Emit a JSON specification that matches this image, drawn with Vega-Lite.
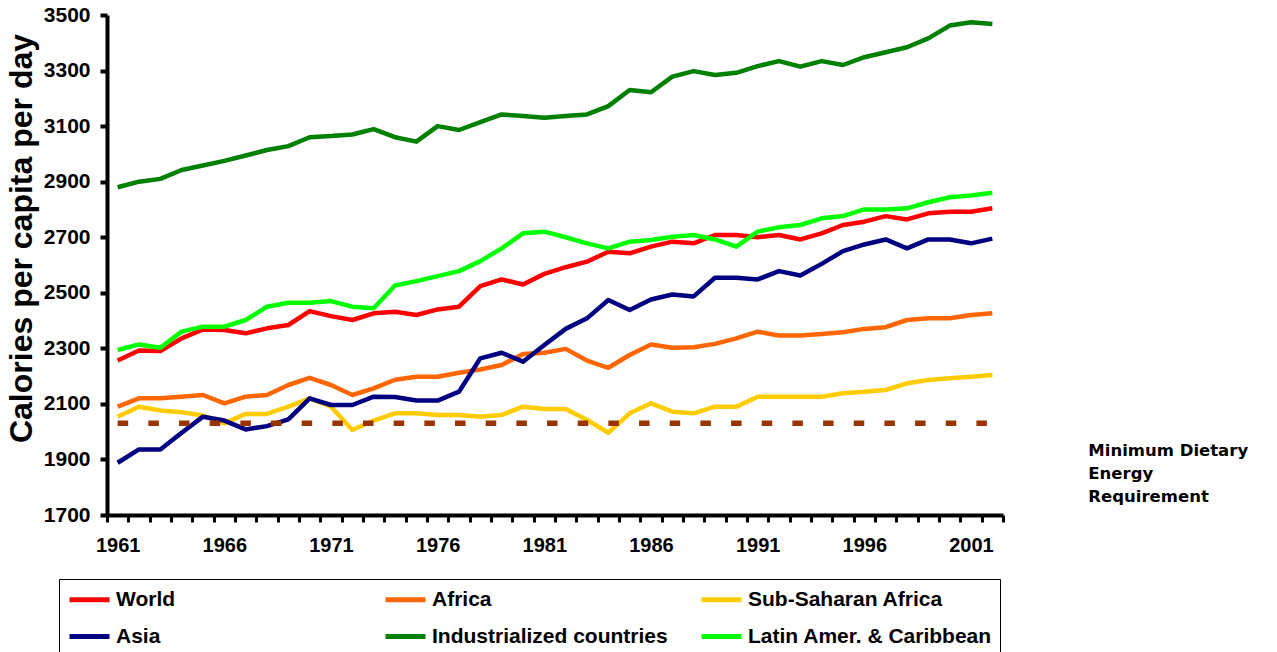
{
  "$schema": "https://vega.github.io/schema/vega-lite/v6.json",
  "width": 896,
  "height": 500,
  "autosize": {"type": "none"},
  "padding": {"left": 107, "top": 15, "right": 274, "bottom": 137},
  "background": "white",
  "config": {"view": {"stroke": null}, "font": "Liberation Sans"},
  "datasets": {
    "series": [
      {"year":1961,"series":"World","value":2256},{"year":1962,"series":"World","value":2292},{"year":1963,"series":"World","value":2290},{"year":1964,"series":"World","value":2336},{"year":1965,"series":"World","value":2368},{"year":1966,"series":"World","value":2366},{"year":1967,"series":"World","value":2354},{"year":1968,"series":"World","value":2372},{"year":1969,"series":"World","value":2384},{"year":1970,"series":"World","value":2434},{"year":1971,"series":"World","value":2416},{"year":1972,"series":"World","value":2402},{"year":1973,"series":"World","value":2426},{"year":1974,"series":"World","value":2432},{"year":1975,"series":"World","value":2420},{"year":1976,"series":"World","value":2440},{"year":1977,"series":"World","value":2450},{"year":1978,"series":"World","value":2524},{"year":1979,"series":"World","value":2548},{"year":1980,"series":"World","value":2530},{"year":1981,"series":"World","value":2568},{"year":1982,"series":"World","value":2592},{"year":1983,"series":"World","value":2612},{"year":1984,"series":"World","value":2648},{"year":1985,"series":"World","value":2642},{"year":1986,"series":"World","value":2666},{"year":1987,"series":"World","value":2684},{"year":1988,"series":"World","value":2678},{"year":1989,"series":"World","value":2708},{"year":1990,"series":"World","value":2708},{"year":1991,"series":"World","value":2700},{"year":1992,"series":"World","value":2708},{"year":1993,"series":"World","value":2692},{"year":1994,"series":"World","value":2714},{"year":1995,"series":"World","value":2744},{"year":1996,"series":"World","value":2756},{"year":1997,"series":"World","value":2776},{"year":1998,"series":"World","value":2764},{"year":1999,"series":"World","value":2786},{"year":2000,"series":"World","value":2792},{"year":2001,"series":"World","value":2792},{"year":2002,"series":"World","value":2804},
      {"year":1961,"series":"Africa","value":2090},{"year":1962,"series":"Africa","value":2120},{"year":1963,"series":"Africa","value":2120},{"year":1964,"series":"Africa","value":2126},{"year":1965,"series":"Africa","value":2132},{"year":1966,"series":"Africa","value":2102},{"year":1967,"series":"Africa","value":2126},{"year":1968,"series":"Africa","value":2132},{"year":1969,"series":"Africa","value":2168},{"year":1970,"series":"Africa","value":2194},{"year":1971,"series":"Africa","value":2168},{"year":1972,"series":"Africa","value":2132},{"year":1973,"series":"Africa","value":2156},{"year":1974,"series":"Africa","value":2187},{"year":1975,"series":"Africa","value":2198},{"year":1976,"series":"Africa","value":2198},{"year":1977,"series":"Africa","value":2212},{"year":1978,"series":"Africa","value":2224},{"year":1979,"series":"Africa","value":2240},{"year":1980,"series":"Africa","value":2280},{"year":1981,"series":"Africa","value":2284},{"year":1982,"series":"Africa","value":2298},{"year":1983,"series":"Africa","value":2256},{"year":1984,"series":"Africa","value":2230},{"year":1985,"series":"Africa","value":2276},{"year":1986,"series":"Africa","value":2314},{"year":1987,"series":"Africa","value":2302},{"year":1988,"series":"Africa","value":2304},{"year":1989,"series":"Africa","value":2316},{"year":1990,"series":"Africa","value":2336},{"year":1991,"series":"Africa","value":2360},{"year":1992,"series":"Africa","value":2346},{"year":1993,"series":"Africa","value":2346},{"year":1994,"series":"Africa","value":2352},{"year":1995,"series":"Africa","value":2358},{"year":1996,"series":"Africa","value":2370},{"year":1997,"series":"Africa","value":2376},{"year":1998,"series":"Africa","value":2402},{"year":1999,"series":"Africa","value":2408},{"year":2000,"series":"Africa","value":2408},{"year":2001,"series":"Africa","value":2420},{"year":2002,"series":"Africa","value":2426},
      {"year":1961,"series":"Sub-Saharan Africa","value":2054},{"year":1962,"series":"Sub-Saharan Africa","value":2090},{"year":1963,"series":"Sub-Saharan Africa","value":2076},{"year":1964,"series":"Sub-Saharan Africa","value":2070},{"year":1965,"series":"Sub-Saharan Africa","value":2058},{"year":1966,"series":"Sub-Saharan Africa","value":2030},{"year":1967,"series":"Sub-Saharan Africa","value":2064},{"year":1968,"series":"Sub-Saharan Africa","value":2064},{"year":1969,"series":"Sub-Saharan Africa","value":2090},{"year":1970,"series":"Sub-Saharan Africa","value":2120},{"year":1971,"series":"Sub-Saharan Africa","value":2090},{"year":1972,"series":"Sub-Saharan Africa","value":2006},{"year":1973,"series":"Sub-Saharan Africa","value":2040},{"year":1974,"series":"Sub-Saharan Africa","value":2066},{"year":1975,"series":"Sub-Saharan Africa","value":2066},{"year":1976,"series":"Sub-Saharan Africa","value":2060},{"year":1977,"series":"Sub-Saharan Africa","value":2060},{"year":1978,"series":"Sub-Saharan Africa","value":2054},{"year":1979,"series":"Sub-Saharan Africa","value":2060},{"year":1980,"series":"Sub-Saharan Africa","value":2090},{"year":1981,"series":"Sub-Saharan Africa","value":2082},{"year":1982,"series":"Sub-Saharan Africa","value":2082},{"year":1983,"series":"Sub-Saharan Africa","value":2042},{"year":1984,"series":"Sub-Saharan Africa","value":1996},{"year":1985,"series":"Sub-Saharan Africa","value":2066},{"year":1986,"series":"Sub-Saharan Africa","value":2102},{"year":1987,"series":"Sub-Saharan Africa","value":2072},{"year":1988,"series":"Sub-Saharan Africa","value":2066},{"year":1989,"series":"Sub-Saharan Africa","value":2090},{"year":1990,"series":"Sub-Saharan Africa","value":2090},{"year":1991,"series":"Sub-Saharan Africa","value":2126},{"year":1992,"series":"Sub-Saharan Africa","value":2126},{"year":1993,"series":"Sub-Saharan Africa","value":2126},{"year":1994,"series":"Sub-Saharan Africa","value":2126},{"year":1995,"series":"Sub-Saharan Africa","value":2138},{"year":1996,"series":"Sub-Saharan Africa","value":2144},{"year":1997,"series":"Sub-Saharan Africa","value":2150},{"year":1998,"series":"Sub-Saharan Africa","value":2174},{"year":1999,"series":"Sub-Saharan Africa","value":2186},{"year":2000,"series":"Sub-Saharan Africa","value":2192},{"year":2001,"series":"Sub-Saharan Africa","value":2198},{"year":2002,"series":"Sub-Saharan Africa","value":2204},
      {"year":1961,"series":"Asia","value":1888},{"year":1962,"series":"Asia","value":1936},{"year":1963,"series":"Asia","value":1936},{"year":1964,"series":"Asia","value":1996},{"year":1965,"series":"Asia","value":2054},{"year":1966,"series":"Asia","value":2040},{"year":1967,"series":"Asia","value":2008},{"year":1968,"series":"Asia","value":2020},{"year":1969,"series":"Asia","value":2044},{"year":1970,"series":"Asia","value":2120},{"year":1971,"series":"Asia","value":2096},{"year":1972,"series":"Asia","value":2096},{"year":1973,"series":"Asia","value":2126},{"year":1974,"series":"Asia","value":2125},{"year":1975,"series":"Asia","value":2112},{"year":1976,"series":"Asia","value":2112},{"year":1977,"series":"Asia","value":2144},{"year":1978,"series":"Asia","value":2264},{"year":1979,"series":"Asia","value":2284},{"year":1980,"series":"Asia","value":2252},{"year":1981,"series":"Asia","value":2312},{"year":1982,"series":"Asia","value":2370},{"year":1983,"series":"Asia","value":2408},{"year":1984,"series":"Asia","value":2474},{"year":1985,"series":"Asia","value":2438},{"year":1986,"series":"Asia","value":2476},{"year":1987,"series":"Asia","value":2494},{"year":1988,"series":"Asia","value":2487},{"year":1989,"series":"Asia","value":2554},{"year":1990,"series":"Asia","value":2554},{"year":1991,"series":"Asia","value":2548},{"year":1992,"series":"Asia","value":2578},{"year":1993,"series":"Asia","value":2562},{"year":1994,"series":"Asia","value":2604},{"year":1995,"series":"Asia","value":2650},{"year":1996,"series":"Asia","value":2674},{"year":1997,"series":"Asia","value":2692},{"year":1998,"series":"Asia","value":2660},{"year":1999,"series":"Asia","value":2692},{"year":2000,"series":"Asia","value":2692},{"year":2001,"series":"Asia","value":2678},{"year":2002,"series":"Asia","value":2695},
      {"year":1961,"series":"Industrialized countries","value":2880},{"year":1962,"series":"Industrialized countries","value":2900},{"year":1963,"series":"Industrialized countries","value":2910},{"year":1964,"series":"Industrialized countries","value":2942},{"year":1965,"series":"Industrialized countries","value":2958},{"year":1966,"series":"Industrialized countries","value":2975},{"year":1967,"series":"Industrialized countries","value":2994},{"year":1968,"series":"Industrialized countries","value":3014},{"year":1969,"series":"Industrialized countries","value":3028},{"year":1970,"series":"Industrialized countries","value":3060},{"year":1971,"series":"Industrialized countries","value":3064},{"year":1972,"series":"Industrialized countries","value":3070},{"year":1973,"series":"Industrialized countries","value":3089},{"year":1974,"series":"Industrialized countries","value":3060},{"year":1975,"series":"Industrialized countries","value":3044},{"year":1976,"series":"Industrialized countries","value":3100},{"year":1977,"series":"Industrialized countries","value":3086},{"year":1978,"series":"Industrialized countries","value":3114},{"year":1979,"series":"Industrialized countries","value":3142},{"year":1980,"series":"Industrialized countries","value":3136},{"year":1981,"series":"Industrialized countries","value":3130},{"year":1982,"series":"Industrialized countries","value":3136},{"year":1983,"series":"Industrialized countries","value":3142},{"year":1984,"series":"Industrialized countries","value":3172},{"year":1985,"series":"Industrialized countries","value":3230},{"year":1986,"series":"Industrialized countries","value":3222},{"year":1987,"series":"Industrialized countries","value":3278},{"year":1988,"series":"Industrialized countries","value":3298},{"year":1989,"series":"Industrialized countries","value":3284},{"year":1990,"series":"Industrialized countries","value":3292},{"year":1991,"series":"Industrialized countries","value":3316},{"year":1992,"series":"Industrialized countries","value":3334},{"year":1993,"series":"Industrialized countries","value":3314},{"year":1994,"series":"Industrialized countries","value":3334},{"year":1995,"series":"Industrialized countries","value":3320},{"year":1996,"series":"Industrialized countries","value":3348},{"year":1997,"series":"Industrialized countries","value":3366},{"year":1998,"series":"Industrialized countries","value":3384},{"year":1999,"series":"Industrialized countries","value":3416},{"year":2000,"series":"Industrialized countries","value":3462},{"year":2001,"series":"Industrialized countries","value":3474},{"year":2002,"series":"Industrialized countries","value":3468},
      {"year":1961,"series":"Latin Amer. & Caribbean","value":2294},{"year":1962,"series":"Latin Amer. & Caribbean","value":2314},{"year":1963,"series":"Latin Amer. & Caribbean","value":2302},{"year":1964,"series":"Latin Amer. & Caribbean","value":2360},{"year":1965,"series":"Latin Amer. & Caribbean","value":2378},{"year":1966,"series":"Latin Amer. & Caribbean","value":2378},{"year":1967,"series":"Latin Amer. & Caribbean","value":2402},{"year":1968,"series":"Latin Amer. & Caribbean","value":2450},{"year":1969,"series":"Latin Amer. & Caribbean","value":2464},{"year":1970,"series":"Latin Amer. & Caribbean","value":2464},{"year":1971,"series":"Latin Amer. & Caribbean","value":2470},{"year":1972,"series":"Latin Amer. & Caribbean","value":2450},{"year":1973,"series":"Latin Amer. & Caribbean","value":2444},{"year":1974,"series":"Latin Amer. & Caribbean","value":2526},{"year":1975,"series":"Latin Amer. & Caribbean","value":2542},{"year":1976,"series":"Latin Amer. & Caribbean","value":2560},{"year":1977,"series":"Latin Amer. & Caribbean","value":2578},{"year":1978,"series":"Latin Amer. & Caribbean","value":2614},{"year":1979,"series":"Latin Amer. & Caribbean","value":2660},{"year":1980,"series":"Latin Amer. & Caribbean","value":2714},{"year":1981,"series":"Latin Amer. & Caribbean","value":2720},{"year":1982,"series":"Latin Amer. & Caribbean","value":2700},{"year":1983,"series":"Latin Amer. & Caribbean","value":2678},{"year":1984,"series":"Latin Amer. & Caribbean","value":2660},{"year":1985,"series":"Latin Amer. & Caribbean","value":2684},{"year":1986,"series":"Latin Amer. & Caribbean","value":2690},{"year":1987,"series":"Latin Amer. & Caribbean","value":2702},{"year":1988,"series":"Latin Amer. & Caribbean","value":2708},{"year":1989,"series":"Latin Amer. & Caribbean","value":2692},{"year":1990,"series":"Latin Amer. & Caribbean","value":2666},{"year":1991,"series":"Latin Amer. & Caribbean","value":2720},{"year":1992,"series":"Latin Amer. & Caribbean","value":2736},{"year":1993,"series":"Latin Amer. & Caribbean","value":2744},{"year":1994,"series":"Latin Amer. & Caribbean","value":2768},{"year":1995,"series":"Latin Amer. & Caribbean","value":2776},{"year":1996,"series":"Latin Amer. & Caribbean","value":2800},{"year":1997,"series":"Latin Amer. & Caribbean","value":2800},{"year":1998,"series":"Latin Amer. & Caribbean","value":2804},{"year":1999,"series":"Latin Amer. & Caribbean","value":2826},{"year":2000,"series":"Latin Amer. & Caribbean","value":2844},{"year":2001,"series":"Latin Amer. & Caribbean","value":2850},{"year":2002,"series":"Latin Amer. & Caribbean","value":2860}
    ],
    "mder": [
      {"year":1961,"value":2030,"label":["Minimum Dietary","Energy","Requirement"]},
      {"year":2002,"value":2030,"label":["Minimum Dietary","Energy","Requirement"]}
    ]
  },
  "layer": [
    {
      "data": {"name": "series"},
      "mark": {"type": "line", "strokeWidth": 4.5, "strokeJoin": "round"},
      "encoding": {
        "x": {
          "field": "year", "type": "ordinal", "bandPosition": 0.5,
          "scale": {"type": "band", "paddingInner": 0, "paddingOuter": 0},
          "axis": {
            "title": null,
            "labelExpr": "(datum.value - 1961) % 5 == 0 ? datum.label : ''",
            "labelAngle": 0, "labelOverlap": false, "labelFlush": false,
            "tickBand": "extent",
            "domainColor": "black", "domainWidth": 4,
            "tickColor": "black", "tickWidth": 3, "tickSize": 7,
            "labelFont": "Liberation Sans", "labelFontWeight": "bold", "labelFontSize": 20,
            "labelColor": "black", "labelPadding": 13
          }
        },
        "y": {
          "field": "value", "type": "quantitative",
          "scale": {"domain": [1700, 3500], "nice": false, "zero": false},
          "axis": {
            "title": "Calories per capita per day",
            "values": [1700, 1900, 2100, 2300, 2500, 2700, 2900, 3100, 3300, 3500],
            "format": "d",
            "grid": false, "labelFlush": false,
            "domainColor": "black", "domainWidth": 4,
            "tickColor": "black", "tickWidth": 4, "tickSize": 7,
            "labelFont": "Liberation Sans", "labelFontWeight": "bold", "labelFontSize": 21,
            "labelColor": "black", "labelPadding": 10,
            "titleFont": "Liberation Sans", "titleFontSize": 32, "titleFontWeight": "bold", "titleColor": "black",
            "titleX": -76, "titleY": 223, "titleAngle": -90, "titleBaseline": "alphabetic", "titleAlign": "center"
          }
        },
        "color": {
          "field": "series", "type": "nominal",
          "scale": {
            "domain": ["World", "Africa", "Sub-Saharan Africa", "Asia", "Industrialized countries", "Latin Amer. & Caribbean"],
            "range": ["#FF0000", "#FF6600", "#FFCC00", "#000080", "#008000", "#00FF00"]
          },
          "legend": {
            "orient": "none", "legendX": -48, "legendY": 564,
            "direction": "horizontal", "columns": 3, "title": null,
            "symbolType": "M-1,0H3", "symbolSize": 400, "symbolStrokeWidth": 5,
            "labelFont": "Liberation Sans", "labelFontSize": 21, "labelFontWeight": "bold", "labelColor": "black",
            "labelLimit": 400, "labelOffset": 24,
            "columnPadding": 15, "rowPadding": 14, "padding": 8,
            "gridAlign": "all",
            "strokeColor": "black", "fillColor": "white"
          }
        }
      }
    },
    {
      "data": {"name": "mder"},
      "mark": {"type": "line", "color": "#993300", "strokeWidth": 5.5, "strokeDash": [10.5, 20.17]},
      "encoding": {
        "x": {"field": "year", "type": "ordinal", "bandPosition": 0.5},
        "y": {"field": "value", "type": "quantitative"}
      }
    },
    {
      "data": {"name": "mder"},
      "transform": [{"filter": "datum.year == 2002"}],
      "mark": {"type": "text", "align": "left", "baseline": "top", "dx": 96, "dy": 20, "font": "DejaVu Sans", "fontWeight": "bold", "fontSize": 16.5, "lineHeight": 23, "color": "black"},
      "encoding": {
        "x": {"field": "year", "type": "ordinal", "bandPosition": 0.5},
        "y": {"field": "value", "type": "quantitative"},
        "text": {"field": "label"}
      }
    }
  ]
}
